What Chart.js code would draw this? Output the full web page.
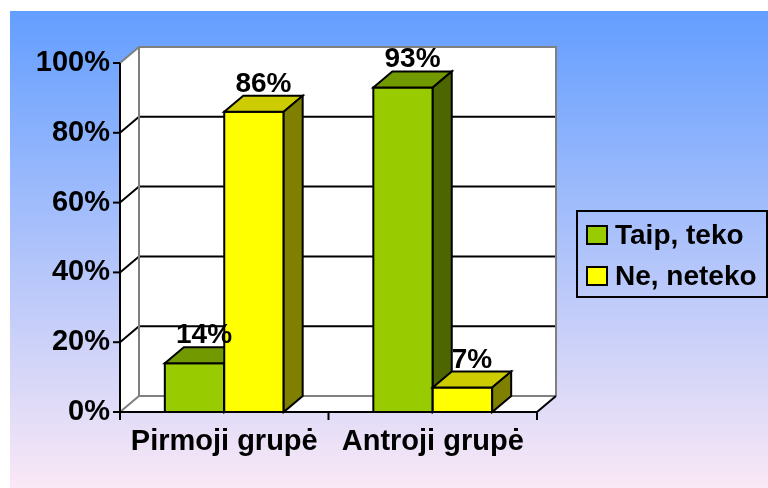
<!DOCTYPE html>
<html>
<head>
<meta charset="utf-8">
<script src="https://cdn.jsdelivr.net/npm/chart.js@4"></script>
<style>
html, body { margin: 0; padding: 0; background: #fff; }
</style>
</head>
<body>
<canvas id="myChart" width="768" height="488"></canvas>
<script>
const categories = ['Pirmoji grupė', 'Antroji grupė'];
const seriesNames = ['Taip, teko', 'Ne, neteko'];
const taipValues = [14, 93];
const neValues = [86, 7];
const yTicks = [0, 20, 40, 60, 80, 100];

// 3D offset of the back wall / bar depth
const DX = 19, DY = -16;
const FAM = '"Liberation Sans", Arial, sans-serif';
const FONT = 'bold 28px ' + FAM;

const faces = {
    '#99cc00': { top: '#739900', side: '#4d6600' },
    '#ffff00': { top: '#cccc00', side: '#808000' }
};

function line(ctx, pts, color, w) {
    ctx.beginPath();
    ctx.moveTo(pts[0][0], pts[0][1]);
    for (let i = 1; i < pts.length; i++) ctx.lineTo(pts[i][0], pts[i][1]);
    ctx.strokeStyle = color;
    ctx.lineWidth = w;
    ctx.stroke();
}

function poly(ctx, pts, fill) {
    ctx.beginPath();
    ctx.moveTo(pts[0][0], pts[0][1]);
    for (let i = 1; i < pts.length; i++) ctx.lineTo(pts[i][0], pts[i][1]);
    ctx.closePath();
    ctx.fillStyle = fill;
    ctx.fill();
    ctx.strokeStyle = '#000';
    ctx.lineWidth = 2;
    ctx.stroke();
}

const box3d = {
    id: 'box3d',
    beforeDraw(chart) {
        const ctx = chart.ctx;
        ctx.save();
        ctx.fillStyle = '#fff';
        ctx.fillRect(0, 0, chart.width, chart.height);
        const g = ctx.createLinearGradient(0, 11, 0, chart.height);
        g.addColorStop(0, 'rgb(99,158,255)');
        g.addColorStop(1, 'rgb(250,232,246)');
        ctx.fillStyle = g;
        ctx.fillRect(10, 11, chart.width - 10, chart.height - 11);
        ctx.restore();
    },
    beforeDatasetsDraw(chart) {
        const ctx = chart.ctx;
        const ys = chart.scales.y;
        const L = chart.chartArea.left, R = chart.chartArea.right;
        const T = ys.getPixelForValue(100), B = ys.getPixelForValue(0);
        ctx.save();
        ctx.lineCap = 'butt';
        // walls and floor
        ctx.beginPath();
        ctx.moveTo(L, B); ctx.lineTo(L, T); ctx.lineTo(L + DX, T + DY);
        ctx.lineTo(R + DX, T + DY); ctx.lineTo(R + DX, B + DY); ctx.lineTo(R, B);
        ctx.closePath();
        ctx.fillStyle = '#fff';
        ctx.fill();
        // grid lines
        yTicks.forEach(v => {
            if (v === 0 || v === 100) return;
            const y = ys.getPixelForValue(v);
            line(ctx, [[L, y], [L + DX, y + DY], [R + DX, y + DY]], '#000', 2);
        });
        // wall edges
        const grey = '#808080';
        line(ctx, [[L, T], [L + DX, T + DY], [R + DX, T + DY], [R + DX, B + DY]], grey, 2);
        line(ctx, [[L + DX, T + DY], [L + DX, B + DY], [R + DX, B + DY]], grey, 2);
        line(ctx, [[L, B], [L + DX, B + DY]], grey, 2);
        line(ctx, [[R, B], [R + DX, B + DY]], '#000', 2);
        // axes
        line(ctx, [[L, T], [L, B + 1]], '#000', 2);
        line(ctx, [[L - 1, B], [R + 1, B]], '#000', 2);
        yTicks.forEach(v => {
            const y = ys.getPixelForValue(v);
            line(ctx, [[L - 7, y], [L, y]], '#000', 2);
        });
        const n = categories.length;
        for (let i = 0; i <= n; i++) {
            const x = L + (R - L) * i / n;
            line(ctx, [[x, B], [x, B + 8]], '#000', 2);
        }
        ctx.restore();
    },
    afterDatasetsDraw(chart) {
        const ctx = chart.ctx;
        ctx.save();
        ctx.lineJoin = 'miter';
        categories.forEach((c, i) => {
            chart.data.datasets.forEach((ds, d) => {
                const el = chart.getDatasetMeta(d).data[i];
                const { x, y, base, width } = el.getProps(['x', 'y', 'base', 'width'], true);
                const l = x - width / 2, r = x + width / 2;
                const col = faces[ds.backgroundColor];
                poly(ctx, [[l, y], [r, y], [r, base], [l, base]], ds.backgroundColor);
                poly(ctx, [[l, y], [l + DX, y + DY], [r + DX, y + DY], [r, y]], col.top);
                poly(ctx, [[r, y], [r + DX, y + DY], [r + DX, base + DY], [r, base]], col.side);
            });
        });
        // value labels
        ctx.font = FONT;
        ctx.fillStyle = '#000';
        ctx.textAlign = 'center';
        ctx.textBaseline = 'alphabetic';
        chart.data.datasets.forEach((ds, d) => {
            chart.getDatasetMeta(d).data.forEach((el, i) => {
                ctx.fillText(ds.data[i] + '%', el.x + DX / 2, el.y - 20);
            });
        });
        ctx.restore();
    },
    afterDraw(chart) {
        const ctx = chart.ctx;
        const bx = chart.chartArea.right + DX + 21, by = 211, bw = 190, bh = 86;
        ctx.save();
        ctx.strokeStyle = '#000';
        ctx.lineWidth = 2;
        ctx.strokeRect(bx, by, bw, bh);
        ctx.font = FONT;
        ctx.textAlign = 'left';
        ctx.textBaseline = 'middle';
        chart.data.datasets.forEach((ds, d) => {
            const cy = by + 24 + d * 41;
            ctx.fillStyle = ds.backgroundColor;
            ctx.fillRect(bx + 10, cy - 9, 20, 18);
            ctx.strokeRect(bx + 10, cy - 9, 20, 18);
            ctx.fillStyle = '#000';
            ctx.fillText(ds.label, bx + 38, cy + 1);
        });
        ctx.restore();
    }
};

const ctx = document.getElementById('myChart').getContext('2d');
const myChart = new Chart(ctx, {
    type: 'bar',
    data: {
        labels: categories,
        datasets: [{
            label: seriesNames[0],
            data: taipValues,
            backgroundColor: '#99cc00'
        }, {
            label: seriesNames[1],
            data: neValues,
            backgroundColor: '#ffff00'
        }]
    },
    options: {
        responsive: false,
        animation: false,
        events: [],
        categoryPercentage: 0.57,
        barPercentage: 1,
        layout: { padding: { left: 10, top: 63, right: 231, bottom: 0 } },
        plugins: {
            legend: { display: false },
            tooltip: { enabled: false }
        },
        scales: {
            x: {
                grid: { display: false, drawTicks: false },
                border: { display: false },
                ticks: { color: '#000', padding: 13, font: { family: FAM, size: 29, weight: 'bold' } },
                afterFit: s => { s.height = 76; }
            },
            y: {
                min: 0,
                max: 100,
                grid: { display: false, drawTicks: false },
                border: { display: false },
                afterBuildTicks: s => { s.ticks = yTicks.map(v => ({ value: v })); },
                ticks: {
                    color: '#000',
                    padding: 10,
                    font: { family: FAM, size: 29, weight: 'bold' },
                    callback: v => v + '%'
                },
                afterFit: s => { s.width = 110; }
            }
        }
    },
    plugins: [box3d]
});
</script>
</body>
</html>
